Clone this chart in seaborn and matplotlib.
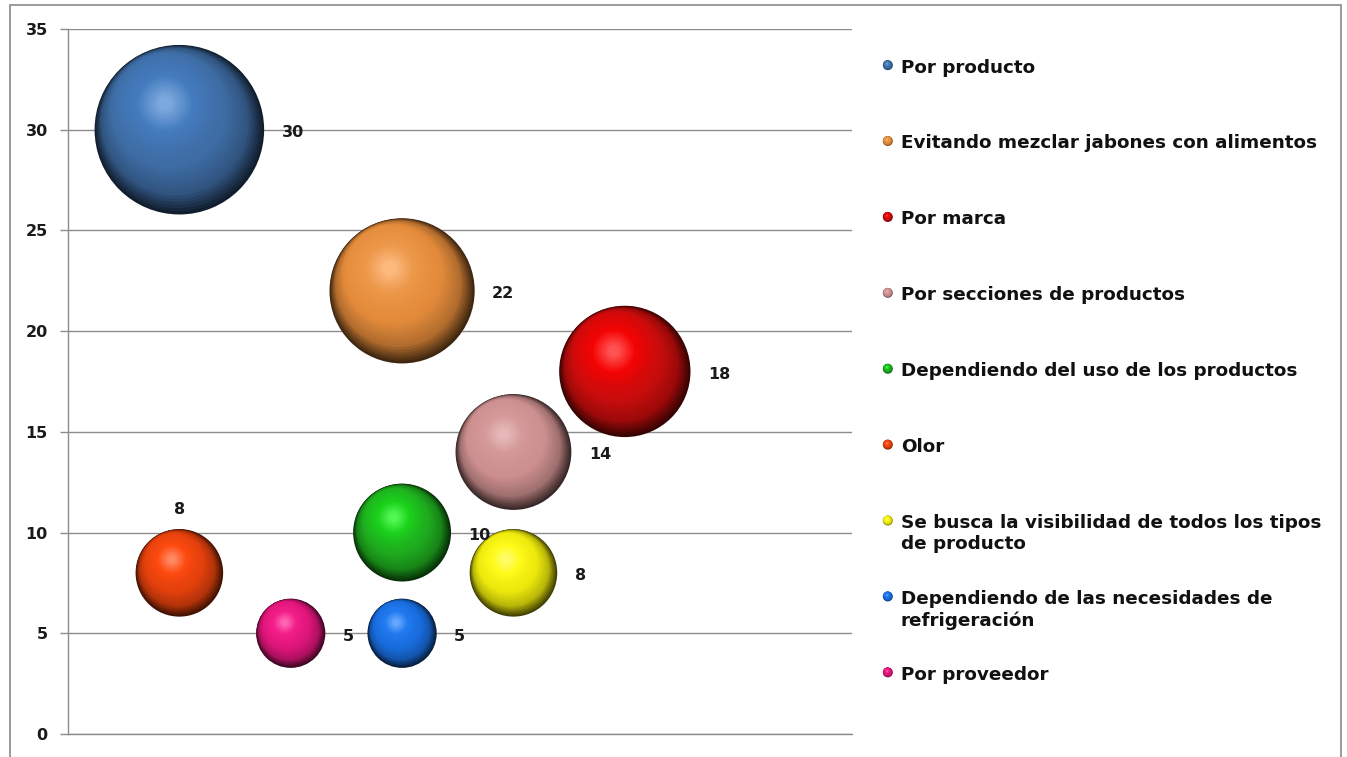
import colorsys
import numpy as np
import pandas as pd
import matplotlib
matplotlib.use("Agg")
import matplotlib.pyplot as plt
import matplotlib.transforms as mtransforms
from matplotlib.colors import to_rgb
from matplotlib.patches import Rectangle
import seaborn as sns

# --- datos ---------------------------------------------------------------
categorias = [
    "Por producto",
    "Evitando mezclar jabones con alimentos",
    "Por marca",
    "Por secciones de productos",
    "Dependiendo del uso de los productos",
    "Olor",
    "Se busca la visibilidad de todos los tipos\nde producto",
    "Dependiendo de las necesidades de\nrefrigeración",
    "Por proveedor",
]
posicion_x = [1, 3, 5, 4, 3, 1, 4, 3, 2]
valores = [30, 22, 18, 14, 10, 8, 8, 5, 5]
colores = [
    "#3e6ca3", "#e28a3a", "#c80c0c", "#cc8e8e", "#1eaa1e",
    "#e2400c", "#ece80c", "#186cdc", "#de157a",
]
etiqueta_arriba = [False, False, False, False, False, True, False, False, False]
marcas_y = [0, 5, 10, 15, 20, 25, 30, 35]

df = pd.DataFrame({"categoria": categorias, "x": posicion_x, "valor": valores})

# --- estilo ---------------------------------------------------------------
sns.set_theme(style="white")
plt.rcParams["font.family"] = ["DejaVu Sans"]
plt.rcParams["font.weight"] = "bold"

W, H = 1347, 757
fig = plt.figure(figsize=(W / 100, H / 100), dpi=100)
fig.patch.set_facecolor("white")

ax = fig.add_axes([68 / W, 23 / H, (852 - 68) / W, (734 - 29) / H])
ax.set_xlim(0, 7.04)
ax.set_ylim(0, 35)

GRIS = "#8c8c8c"
S_MAX = 14900  # área (pt^2) de la burbuja de valor 30


def oscurecer(rgb, k):
    return tuple(np.clip(np.array(rgb) * k, 0, 1))


def aclarar(rgb, k, ks=1.25):
    h, l, s = colorsys.rgb_to_hls(*rgb)
    return colorsys.hls_to_rgb(h, l + k * (1 - l), min(1.0, s * ks))


# capa base (borde oscuro de cada esfera) dibujada con seaborn
paleta_borde = {c: oscurecer(to_rgb(col), 0.28) for c, col in zip(categorias, colores)}
sns.scatterplot(
    data=df, x="x", y="valor", hue="categoria", palette=paleta_borde,
    size="valor", sizes=(0, S_MAX), size_norm=(0, 30),
    edgecolor="none", legend=False, ax=ax, zorder=3, clip_on=False,
)


def tono(base, t):
    claves = [0.0, 0.14, 0.34, 0.72, 1.0]
    cols = [np.array(oscurecer(base, 0.28)), np.array(oscurecer(base, 0.78)),
            np.array(base), np.array(aclarar(base, 0.12, 1.1)),
            np.array(aclarar(base, 0.42, 1.3))]
    for i in range(len(claves) - 1):
        if claves[i] <= t <= claves[i + 1]:
            u = (t - claves[i]) / (claves[i + 1] - claves[i])
            return tuple(np.clip(cols[i] * (1 - u) + cols[i + 1] * u, 0, 1))
    return tuple(np.clip(cols[-1], 0, 1))


def esfera(axe, x, y, s, color, n=44, z=3):
    r_pt = np.sqrt(s) / 2
    base = to_rgb(color)
    for k, t in enumerate(np.linspace(0, 1, n)[1:]):
        f = 1 - 0.92 * t
        g = min(1.0, t * 2.2)
        tr = mtransforms.offset_copy(
            axe.transData, fig=axe.figure,
            x=-0.17 * r_pt * g, y=0.31 * r_pt * g, units="points")
        axe.scatter([x], [y], s=s * f * f, color=[tono(base, t)],
                    transform=tr, edgecolors="none", zorder=z + 0.001 * k,
                    clip_on=False)


for cat, xv, v, col, arriba in zip(categorias, posicion_x, valores, colores, etiqueta_arriba):
    s = S_MAX * v / 30
    esfera(ax, xv, v, s, col)
    r_pt = np.sqrt(s) / 2
    if arriba:
        ax.annotate(f"{v}", (xv, v), xytext=(0, r_pt + 14), textcoords="offset points",
                    ha="center", va="center", fontsize=11.5, fontweight="bold",
                    color="#1a1a1a", zorder=10)
    else:
        ax.annotate(f"{v}", (xv, v), xytext=(r_pt + 12.5, -2), textcoords="offset points",
                    ha="left", va="center", fontsize=11.5, fontweight="bold",
                    color="#1a1a1a", zorder=10)

# ejes y rejilla
ax.set_yticks(marcas_y)
ax.set_xticks([])
ax.set_xlabel("")
ax.set_ylabel("")
ax.yaxis.grid(True, color=GRIS, linewidth=1.0)
ax.set_axisbelow(True)
for lado in ["top", "right"]:
    ax.spines[lado].set_visible(False)
for lado in ["left", "bottom"]:
    ax.spines[lado].set_color(GRIS)
    ax.spines[lado].set_linewidth(1.0)
ax.tick_params(axis="y", which="major", left=True, length=6, width=1.0,
               color=GRIS, pad=8.5, labelsize=11.5, labelcolor="#1a1a1a")
for lab in ax.get_yticklabels():
    lab.set_fontweight("bold")

# leyenda
lax = fig.add_axes([0, 0, 1, 1], facecolor="none")
lax.set_xlim(0, 1)
lax.set_ylim(0, 1)
lax.set_axis_off()
TAM_LEY = 13.2
for i, (cat, col) in enumerate(zip(categorias, colores)):
    yy = 1 - (65.5 + i * 75.9) / H
    esfera(lax, 888 / W, yy, 62, col, n=12)
    tr = mtransforms.offset_copy(lax.transData, fig=fig, x=0, y=0.38 * TAM_LEY,
                                 units="points")
    lax.text(901 / W, yy, cat, ha="left", va="top", fontsize=TAM_LEY,
             fontweight="bold", color="#111111", linespacing=1.25, transform=tr)

# borde del área del gráfico
fig.patches.append(Rectangle((9.5 / W, -0.05), (1340.5 - 9.5) / W, 1.05 - 4.5 / H,
                             transform=fig.transFigure, fill=False,
                             edgecolor="#8a8a8a", linewidth=1.2))

fig.savefig("out.png", dpi=100, facecolor="white")
